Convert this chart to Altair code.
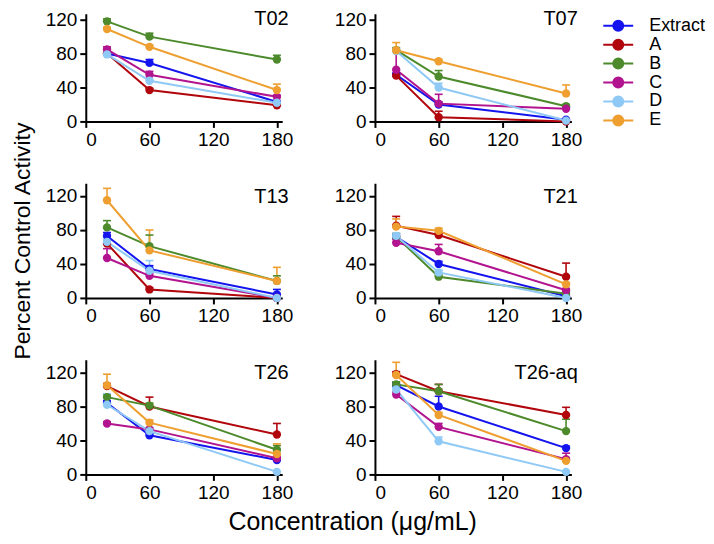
import altair as alt
import pandas as pd

panels = ["T02", "T07", "T13", "T21", "T26", "T26-aq"]
series = ["Extract", "A", "B", "C", "D", "E"]
colors = ["#1414EE", "#B0060C", "#4C8A2C", "#B2138E", "#8FC9F5", "#EE9F30"]
conc = [20, 60, 180]

# mean values per series (conc 20, 60, 180)
t02_mean = {"Extract": [80, 69, 23], "A": [80, 37, 19], "B": [118, 100, 73],
            "C": [85, 55, 29], "D": [79, 48, 22], "E": [109, 88, 37]}
t02_err = {"Extract": [0, 4, 0], "A": [0, 2, 2], "B": [3, 4, 5],
           "C": [3, 4, 2], "D": [2, 2, 2], "E": [2, 2, 7]}

t07_mean = {"Extract": [55, 20, 2], "A": [54, 5, 0], "B": [84, 53, 18],
            "C": [61, 21, 15], "D": [83, 40, 1], "E": [84, 71, 33]}
t07_err = {"Extract": [2, 3, 0], "A": [2, 7, 0], "B": [3, 7, 2],
           "C": [22, 11, 2], "D": [3, 5, 0], "E": [9, 2, 10]}

t13_mean = {"Extract": [73, 34, 4], "A": [64, 10, 0], "B": [83, 61, 20],
            "C": [47, 26, 0], "D": [66, 32, 0], "E": [115, 56, 20]}
t13_err = {"Extract": [4, 4, 6], "A": [3, 2, 0], "B": [8, 13, 6],
           "C": [11, 3, 0], "D": [3, 12, 0], "E": [14, 24, 16]}

t21_mean = {"Extract": [72, 40, 2], "A": [85, 74, 25], "B": [72, 25, 5],
            "C": [65, 55, 9], "D": [73, 30, 0], "E": [84, 79, 16]}
t21_err = {"Extract": [3, 3, 0], "A": [11, 3, 16], "B": [4, 2, 2],
           "C": [4, 8, 2], "D": [3, 3, 0], "E": [9, 3, 2]}

t26_mean = {"Extract": [84, 46, 17], "A": [104, 80, 47], "B": [91, 81, 29],
            "C": [60, 53, 19], "D": [82, 51, 3], "E": [105, 61, 24]}
t26_err = {"Extract": [3, 2, 2], "A": [3, 11, 13], "B": [3, 3, 5],
           "C": [2, 2, 2], "D": [13, 3, 0], "E": [13, 3, 12]}

t26aq_mean = {"Extract": [105, 80, 31], "A": [118, 98, 70], "B": [106, 98, 51],
              "C": [94, 56, 18], "D": [100, 39, 3], "E": [117, 70, 16]}
t26aq_err = {"Extract": [3, 12, 2], "A": [3, 8, 9], "B": [3, 8, 14],
             "C": [3, 4, 7], "D": [3, 5, 0], "E": [15, 3, 3]}

panel_data = {"T02": (t02_mean, t02_err), "T07": (t07_mean, t07_err),
              "T13": (t13_mean, t13_err), "T21": (t21_mean, t21_err),
              "T26": (t26_mean, t26_err), "T26-aq": (t26aq_mean, t26aq_err)}

x_ticks = [0, 60, 120, 180]
y_ticks = [0, 40, 80, 120]

FONT = "Liberation Sans"
W = 197

color_scale = alt.Scale(domain=series, range=colors)
legend = alt.Legend(
    title=None,
    orient="none",
    legendX=525,
    legendY=3,
    symbolType="M-3,0L-1,0M1,0L3,0M1,0A1,1 0 1,1 -1,0A1,1 0 1,1 1,0Z",
    symbolSize=100,
    symbolStrokeWidth=2,
    labelFontSize=18,
    labelFont=FONT,
    labelColor="black",
    labelOffset=22,
    rowPadding=1,
)


def make_panel(name, idx):
    mean, err = panel_data[name]
    rows = []
    for s in series:
        for c, m, e in zip(conc, mean[s], err[s]):
            rows.append({"series": s, "conc": c, "mean": m, "err": e, "top": m + e})
    df = pd.DataFrame(rows)
    top_row = idx < 2
    ymax = 127 if top_row else 135
    h = 108 if top_row else 115
    ytitle = "Percent Control Activity" if name == "T13" else None

    xscale = alt.Scale(domain=[0, 185], nice=False)
    yscale = alt.Scale(domain=[0, ymax], nice=False)
    xaxis = alt.Axis(values=x_ticks, title=None)
    if ytitle:
        yaxis = alt.Axis(values=y_ticks, title=ytitle)
    else:
        yaxis = alt.Axis(values=y_ticks, title=None)

    def X(f):
        return alt.X(f, scale=xscale, axis=xaxis)

    def Y(f):
        return alt.Y(f, scale=yscale, axis=yaxis)

    col = alt.Color("series:N", scale=color_scale, legend=legend)

    base = alt.Chart(df)
    eb = base.transform_filter("datum.err > 0").mark_rule(strokeWidth=1.6).encode(
        x=X("conc:Q"), y=Y("mean:Q"), y2="top:Q", color=col)
    cap = base.transform_filter("datum.err > 0").mark_rule(
        strokeWidth=1.6, xOffset=-4, x2Offset=4).encode(
        x=X("conc:Q"), x2="conc:Q", y=Y("top:Q"), color=col)
    line = base.mark_line(strokeWidth=2).encode(
        x=X("conc:Q"), y=Y("mean:Q"), color=col, order="conc:Q")
    pts = base.mark_point(filled=True, size=70, opacity=1).encode(
        x=X("conc:Q"), y=Y("mean:Q"), color=col)
    ly = 114 if top_row else 112
    label = alt.Chart(pd.DataFrame({"t": [name], "lx": [191], "ly": [ly]})).mark_text(
        align="right", baseline="alphabetic", fontSize=20, font=FONT, color="black"
    ).encode(text="t:N", x=X("lx:Q"), y=Y("ly:Q"))
    return alt.layer(eb, cap, line, pts, label).properties(width=W, height=h)


charts = [make_panel(p, i) for i, p in enumerate(panels)]

chart = alt.concat(
    *charts, columns=2, spacing={"row": 62, "column": 93}, bounds="flush"
).properties(
    title=alt.TitleParams("Concentration (μg/mL)", orient="bottom", fontSize=25,
                          fontWeight="normal", font=FONT, color="black",
                          anchor="middle", offset=8, dx=-6),
    padding={"left": 3, "top": 0, "right": 0, "bottom": 0},
).resolve_scale(color="shared").resolve_legend(color="shared").configure_axis(
    grid=False,
    domainColor="black",
    domainWidth=2,
    tickColor="black",
    tickWidth=2,
    tickSize=6,
    labelFontSize=19,
    labelFont=FONT,
    labelColor="black",
    labelPadding=3,
    titleFont=FONT,
    titleFontSize=23,
    titleFontWeight="normal",
    titleColor="black",
    titlePadding=11,
).configure_view(stroke=None)

chart.save("out.html", embed_options={"renderer": "svg", "actions": False})
